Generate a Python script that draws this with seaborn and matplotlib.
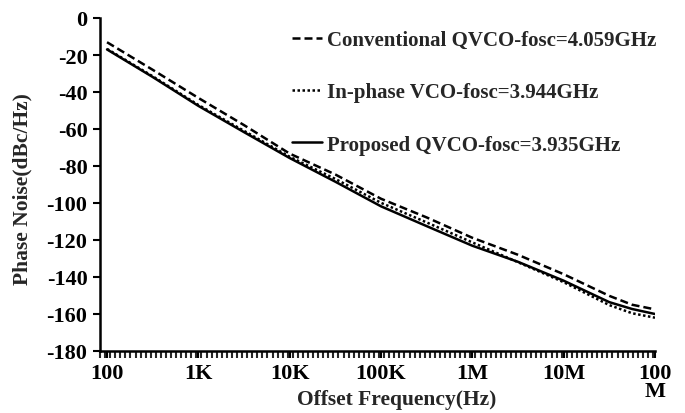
import numpy as np
import pandas as pd
import matplotlib
matplotlib.use("Agg")
import matplotlib.pyplot as plt
import matplotlib.ticker as mticker
import seaborn as sns

freq = [1e2, 3.162e2, 1e3, 3.162e3, 1e4, 3.162e4, 1e5, 3.162e5, 1e6, 3.162e6, 1e7, 3.162e7, 5.623e7, 1e8]
conventional = [-13.1, -28.0, -43.2, -57.9, -73.3, -84.6, -97.7, -107.8, -118.8, -128.0, -138.5, -150.2, -155.0, -157.5]
inphase = [-16.7, -31.5, -47.0, -61.0, -75.0, -87.0, -99.9, -110.5, -121.3, -132.0, -142.8, -155.2, -159.6, -162.0]
proposed = [-17.0, -31.9, -47.5, -61.7, -75.7, -88.5, -101.8, -112.5, -123.1, -131.8, -142.0, -153.6, -157.3, -160.0]
series_names = ["Conventional QVCO-fosc=4.059GHz", "In-phase VCO-fosc=3.944GHz", "Proposed QVCO-fosc=3.935GHz"]
xtick_vals = [1e2, 1e3, 1e4, 1e5, 1e6, 1e7, 1e8]
xtick_labels = ["100", "1K", "10K", "100K", "1M", "10M", "100\nM"]
ytick_vals = list(range(0, -181, -20))

df = pd.DataFrame({
    "freq": freq * 3,
    "pn": conventional + inphase + proposed,
    "series": [series_names[0]] * len(freq) + [series_names[1]] * len(freq) + [series_names[2]] * len(freq),
})

sns.set_style("white")
plt.rcParams["font.family"] = ["Liberation Serif", "DejaVu Serif"]
plt.rcParams["font.weight"] = "bold"

fig = plt.figure(figsize=(6.85, 4.14), dpi=100)
ax = fig.add_axes([100 / 685, 1 - 352 / 414, 555 / 685, 333 / 414])

sns.lineplot(data=df, x="freq", y="pn", hue="series", style="series",
             palette=["black", "black", "black"],
             dashes=[(3.2, 1.6), (1, 1), ""], linewidth=1.8, ax=ax, legend=True)

ax.set_xscale("log")
ax.set_xlim(10 ** 1.923, 1e8)
ax.set_ylim(-180, 0)
ax.set_xticks(xtick_vals)
ax.set_xticklabels(xtick_labels)
minor = 10 ** np.arange(1.923, 8.0001, 1 / 18)
ax.xaxis.set_minor_locator(mticker.FixedLocator(minor))
ax.xaxis.set_minor_formatter(mticker.NullFormatter())
ax.set_yticks(ytick_vals)
ax.set_yticklabels([str(v) for v in ytick_vals])

for s in ["top", "right"]:
    ax.spines[s].set_visible(False)
for s in ["left", "bottom"]:
    ax.spines[s].set_linewidth(1.8)
    ax.spines[s].set_color("black")

ax.tick_params(axis="both", which="major", direction="out", length=5, width=1.5,
               labelsize=16, colors="black", pad=4, bottom=True, left=True)
ax.tick_params(axis="x", which="minor", direction="out", length=5, width=1.5, bottom=True)
for lab in ax.get_xticklabels() + ax.get_yticklabels():
    lab.set_fontweight("bold")
for lab in ax.get_xticklabels():
    lab.set_linespacing(0.85)
    lab.set_verticalalignment("top")

ax.set_xlabel("Offset Frequency(Hz)", fontsize=15.5, fontweight="bold")
ax.xaxis.set_label_coords(0.535, -0.115)
ax.set_ylabel("Phase Noise(dBc/Hz)", fontsize=15.5, fontweight="bold")
ax.yaxis.set_label_coords(-0.121, 0.49)

leg = ax.legend(loc="upper left", bbox_to_anchor=(0.312, 1.02), frameon=False,
                prop={"family": "Liberation Serif", "weight": "bold", "size": 15},
                handlelength=1.45, handletextpad=0.25, labelspacing=1.55)
for line in leg.get_lines():
    line.set_linewidth(1.8)

fig.savefig("out.png", dpi=100)
